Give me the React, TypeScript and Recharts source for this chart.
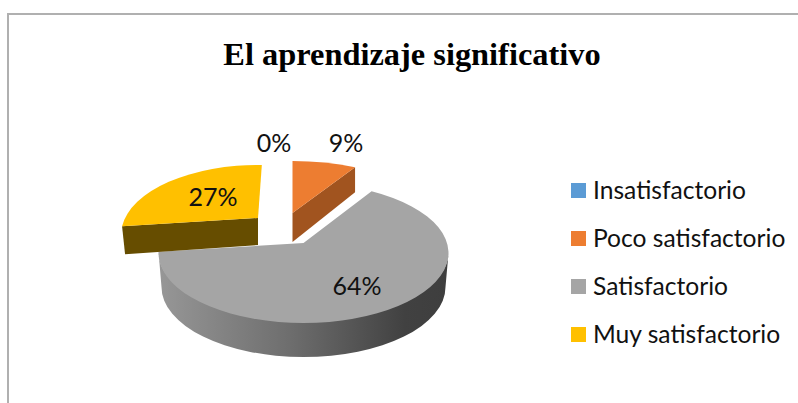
import React from "react";
import { PieChart, Pie, Legend } from "recharts";

const categories = ["Insatisfactorio", "Poco satisfactorio", "Satisfactorio", "Muy satisfactorio"];
const values = [0, 9, 64, 27];
const colors = ["#5B9BD5", "#ED7D31", "#A5A5A5", "#FFC000"];
const titleText = "El aprendizaje significativo";

const rows = categories.map((name, i) => ({ name, value: values[i], fill: colors[i] }));

const FONT = "Lato, 'Noto Sans', sans-serif";
const K = 70 / 145;

type Geo = {
  dx: number; dy: number; rx: number; ry: number; shift: number; lean: number;
  face: "none" | "start" | "end" | "rim"; faceColor: string;
  depthApex: number; depthRim: number; lx: number; ly: number;
};

const geometry: Record<string, Geo> = {
  Insatisfactorio: { dx: -30, dy: -30, rx: 145, ry: 70, shift: -10, lean: 0, face: "none", faceColor: "#3a6f9f", depthApex: 0, depthRim: 0, lx: -29.5, ly: -111 },
  "Poco satisfactorio": { dx: -11, dy: -22, rx: 152, ry: 70, shift: -18, lean: -1, face: "end", faceColor: "#A1541F", depthApex: 29, depthRim: 25, lx: 42.5, ly: -111 },
  Satisfactorio: { dx: 0, dy: 0, rx: 145, ry: 70, shift: -10, lean: 0, face: "rim", faceColor: "url(#graySide)", depthApex: 34, depthRim: 34, lx: 53.5, ly: 32 },
  "Muy satisfactorio": { dx: -45.5, dy: -18, rx: 137, ry: 70, shift: -17, lean: -2, face: "start", faceColor: "#664D00", depthApex: 27, depthRim: 28, lx: -90.5, ly: -57 },
};

function rimPoint(cx: number, cy: number, g: Geo, deg: number) {
  const a = (deg * Math.PI) / 180;
  const dirX = Math.cos(a);
  const dirY = -Math.sin(a) * K;
  const A = (dirX / g.rx) ** 2 + (dirY / g.ry) ** 2;
  const B = (2 * g.shift * dirY) / g.ry ** 2;
  const C = (g.shift / g.ry) ** 2 - 1;
  const t = (-B + Math.sqrt(B * B - 4 * A * C)) / (2 * A);
  return { x: cx + t * dirX, y: cy + g.shift + t * dirY };
}

function Slice3D(props: any) {
  const { cx, cy, startAngle, endAngle, fill, name } = props;
  const g = geometry[name];
  if (!g || Math.abs(startAngle - endAngle) < 0.01) return <g />;
  const ex = cx + g.dx;
  const ey = cy + g.dy;
  const apex = { x: ex, y: ey + g.shift };
  const p1 = rimPoint(ex, ey, g, startAngle);
  const p2 = rimPoint(ex, ey, g, endAngle + g.lean);
  const large = startAngle - endAngle > 180 ? 1 : 0;
  const top = `M${apex.x},${apex.y} L${p1.x},${p1.y} A${g.rx},${g.ry} 0 ${large} 1 ${p2.x},${p2.y} Z`;
  let side = "";
  if (g.face === "rim") {
    const rb = g.rx - 3;
    side = `M${p2.x},${p2.y} A${g.rx},${g.ry} 0 0 0 ${ex + g.rx},${ey} L${ex + rb},${ey + g.depthRim} A${rb},${g.ry} 0 0 1 ${ex - rb},${ey + g.depthRim} Z`;
  } else if (g.face !== "none") {
    const p = g.face === "end" ? p2 : p1;
    side = `M${apex.x},${apex.y} L${p.x},${p.y} L${p.x + (g.face === "start" ? 3 : 0)},${p.y + g.depthRim} L${apex.x},${apex.y + g.depthApex} Z`;
  }
  return (
    <g>
      <defs>
        <linearGradient id="graySide" x1="0" x2="1" y1="0" y2="0">
          <stop offset="0%" stopColor="#979797" />
          <stop offset="45%" stopColor="#6e6e6e" />
          <stop offset="85%" stopColor="#414141" />
          <stop offset="100%" stopColor="#3e3e3e" />
        </linearGradient>
      </defs>
      {side && <path d={side} fill={g.faceColor} />}
      <path d={top} fill={fill} />
    </g>
  );
}

function sliceLabel(props: any) {
  const g = geometry[props.name];
  return (
    <text
      x={props.cx + g.lx}
      y={props.cy + g.ly}
      textAnchor="middle"
      dominantBaseline="central"
      fontFamily={FONT}
      fontSize={25}
      fill="#111"
    >
      {`${props.value}%`}
    </text>
  );
}

function LegendList({ payload }: any) {
  return (
    <div>
      {(payload || []).map((e: any) => (
        <div key={e.value} style={{ height: 48, display: "flex", alignItems: "center", whiteSpace: "nowrap" }}>
          <span style={{ width: 15, height: 15, background: e.color, display: "inline-block", marginRight: 7 }} />
          <span style={{ fontFamily: FONT, fontSize: 24.6, color: "#111", position: "relative", top: -1 }}>{e.value}</span>
        </div>
      ))}
    </div>
  );
}

export default function App() {
  return (
    <div style={{ position: "absolute", left: 0, top: 0, width: 798, height: 403, background: "#fff", overflow: "hidden" }}>
      <div style={{ position: "absolute", left: 7, top: 13, width: 2, height: 390, background: "#b0b0b0" }} />
      <div style={{ position: "absolute", left: 7, top: 13, width: 791, height: 2, background: "#b0b0b0" }} />
      <div style={{ position: "absolute", left: 0, width: 824, top: 35, textAlign: "center", fontFamily: "'Liberation Serif', serif", fontWeight: "bold", fontSize: 32.4, lineHeight: "38px", color: "#000" }}>
        {titleText}
      </div>
      <PieChart width={798} height={403} margin={{ top: 0, right: 0, bottom: 0, left: 0 }} style={{ position: "absolute", left: 0, top: 0 }}>
        <Pie
          data={rows}
          dataKey="value"
          nameKey="name"
          cx={303.5}
          cy={253}
          outerRadius={145}
          startAngle={90}
          endAngle={-270}
          paddingAngle={0}
          stroke="none"
          isAnimationActive={false}
          shape={Slice3D}
          label={sliceLabel}
          labelLine={false}
        />
        <Legend
          layout="vertical"
          align="right"
          verticalAlign="top"
          itemSorter={null}
          wrapperStyle={{ left: 571, right: "auto", top: 166, width: 227 }}
          content={<LegendList />}
        />
      </PieChart>
    </div>
  );
}
